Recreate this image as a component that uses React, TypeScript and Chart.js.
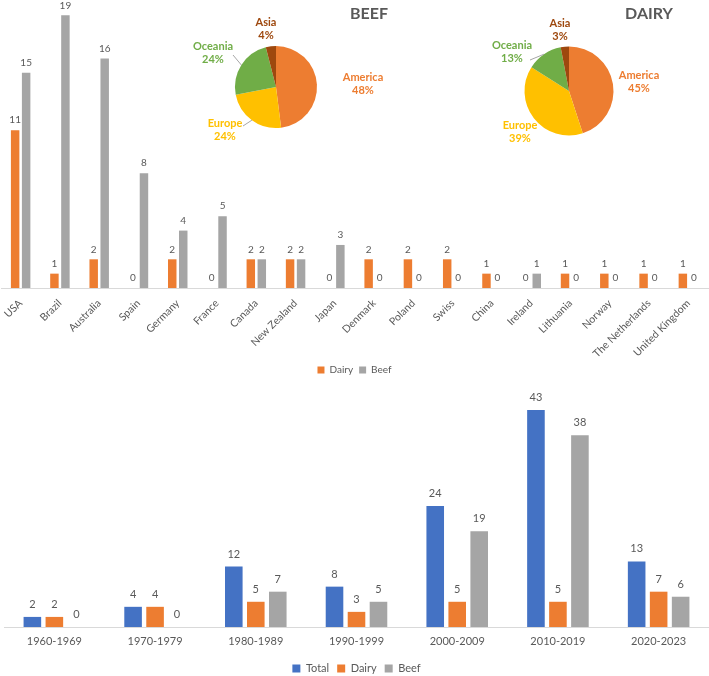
import React, { useEffect, useRef } from 'react';
import { Chart, registerables } from 'chart.js';

Chart.register(...registerables);

// ---------- data ----------
const countries = ['USA', 'Brazil', 'Australia', 'Spain', 'Germany', 'France', 'Canada', 'New Zealand', 'Japan', 'Denmark', 'Poland', 'Swiss', 'China', 'Ireland', 'Lithuania', 'Norway', 'The Netherlands', 'United Kingdom'];
const countryDairy = [11, 1, 2, 0, 2, 0, 2, 2, 0, 2, 2, 2, 1, 0, 1, 1, 1, 1];
const countryBeef = [15, 19, 16, 8, 4, 5, 2, 2, 3, 0, 0, 0, 0, 1, 0, 0, 0, 0];

const decades = ['1960-1969', '1970-1979', '1980-1989', '1990-1999', '2000-2009', '2010-2019', '2020-2023'];
const decadeTotal = [2, 4, 12, 8, 24, 43, 13];
const decadeDairy = [2, 4, 5, 3, 5, 5, 7];
const decadeBeef = [0, 0, 7, 5, 19, 38, 6];

const regions = ['America', 'Europe', 'Oceania', 'Asia'];
const beefShare = [48, 24, 24, 4];
const dairyShare = [45, 39, 13, 3];

// ---------- styles ----------
const ORANGE = '#ED7D31';
const GRAY = '#A5A5A5';
const BLUE = '#4472C4';
const YELLOW = '#FFC000';
const GREEN = '#70AD47';
const BROWN = '#9E480E';
const TEXT = '#595959';
const FONT = 'Lato, "Open Sans", sans-serif';
const regionColors = [ORANGE, YELLOW, GREEN, BROWN];

const valueLabels = (size: number, gap: number) => ({
  id: 'valueLabels',
  afterDatasetsDraw(chart: any) {
    const ctx = chart.ctx;
    ctx.save();
    ctx.font = `${size}px ${FONT}`;
    ctx.fillStyle = TEXT;
    ctx.textAlign = 'center';
    ctx.textBaseline = 'middle';
    chart.data.datasets.forEach((ds: any, i: number) => {
      const meta = chart.getDatasetMeta(i);
      meta.data.forEach((bar: any, j: number) => {
        ctx.fillText(String(ds.data[j]), bar.x, bar.y - gap);
      });
    });
    ctx.restore();
  },
});

const pieLabels = {
  id: 'pieLabels',
  afterDraw(chart: any, _args: any, opts: any) {
    const meta = chart.getDatasetMeta(0);
    const arcs = meta.data;
    if (!arcs.length) return;
    const ctx = chart.ctx;
    const cx = arcs[0].x;
    const cy = arcs[0].y;
    const values = chart.data.datasets[0].data;
    ctx.save();
    ctx.textAlign = 'center';
    ctx.textBaseline = 'middle';
    // title
    ctx.font = `bold 16px ${FONT}`;
    ctx.fillStyle = TEXT;
    ctx.fillText(opts.title, cx + opts.titleOffset[0], cy + opts.titleOffset[1]);
    // leader lines
    ctx.strokeStyle = '#A6A6A6';
    ctx.lineWidth = 1;
    (opts.leaders || []).forEach((l: any) => {
      const arc = arcs[l.index];
      const mid = (arc.startAngle + arc.endAngle) / 2;
      const r = arc.outerRadius;
      ctx.beginPath();
      ctx.moveTo(cx + l.from[0], cy + l.from[1]);
      ctx.lineTo(cx + Math.cos(mid) * r, cy + Math.sin(mid) * r);
      ctx.stroke();
    });
    // labels
    ctx.font = `bold 11px ${FONT}`;
    arcs.forEach((_arc: any, i: number) => {
      const [dx, dy] = opts.offsets[i];
      ctx.fillStyle = regionColors[i];
      ctx.fillText(chart.data.labels[i], cx + dx, cy + dy - 6.5);
      ctx.fillText(values[i] + '%', cx + dx, cy + dy + 6.5);
    });
    ctx.restore();
  },
};

function useChart(ref: React.RefObject<HTMLCanvasElement>, makeConfig: () => any) {
  useEffect(() => {
    if (!ref.current) return;
    const chart = new Chart(ref.current, makeConfig());
    return () => chart.destroy();
  }, []);
}

export default function App() {
  const topRef = useRef<HTMLCanvasElement>(null);
  const bottomRef = useRef<HTMLCanvasElement>(null);
  const beefRef = useRef<HTMLCanvasElement>(null);
  const dairyRef = useRef<HTMLCanvasElement>(null);

  useChart(topRef, () => ({
    type: 'bar',
    data: {
      labels: countries,
      datasets: [
        { label: 'Dairy', data: countryDairy, backgroundColor: ORANGE, barPercentage: 0.77, categoryPercentage: 0.56 },
        { label: 'Beef', data: countryBeef, backgroundColor: GRAY, barPercentage: 0.77, categoryPercentage: 0.56 },
      ],
    },
    options: {
      responsive: false,
      animation: false,
      layout: { padding: { top: 1, left: 1, right: 1, bottom: 0 } },
      scales: {
        x: {
          grid: { display: false, drawTicks: false },
          border: { display: true, color: '#D9D9D9' },
          ticks: { font: { family: FONT, size: 10.5 }, color: TEXT, minRotation: 45, maxRotation: 45, autoSkip: false, padding: 9 },
          afterFit(s: any) {
            s.height = 71;
            s.paddingLeft = 0;
            s.paddingRight = 0;
          },
        },
        y: { display: false, min: 0, max: 20 },
      },
      plugins: {
        legend: { position: 'bottom', labels: { boxWidth: 7, boxHeight: 7, font: { family: FONT, size: 10 }, color: TEXT, padding: 6 } },
        tooltip: { enabled: false },
      },
    },
    plugins: [valueLabels(10, 10)],
  }));

  useChart(bottomRef, () => ({
    type: 'bar',
    data: {
      labels: decades,
      datasets: [
        { label: 'Total', data: decadeTotal, backgroundColor: BLUE, barPercentage: 0.8, categoryPercentage: 0.655 },
        { label: 'Dairy', data: decadeDairy, backgroundColor: ORANGE, barPercentage: 0.8, categoryPercentage: 0.655 },
        { label: 'Beef', data: decadeBeef, backgroundColor: GRAY, barPercentage: 0.8, categoryPercentage: 0.655 },
      ],
    },
    options: {
      responsive: false,
      animation: false,
      layout: { padding: { top: 20, left: 4, right: 0, bottom: 0 } },
      scales: {
        x: {
          grid: { display: false, drawTicks: false },
          border: { display: true, color: '#D9D9D9' },
          ticks: { font: { family: FONT, size: 11 }, color: TEXT, maxRotation: 0, autoSkip: false, padding: 8 },
          afterFit(s: any) {
            s.height = 28;
            s.paddingLeft = 0;
            s.paddingRight = 0;
          },
        },
        y: { display: false, min: 0, max: 45 },
      },
      plugins: {
        legend: { position: 'bottom', labels: { boxWidth: 8, boxHeight: 8, font: { family: FONT, size: 11 }, color: TEXT, padding: 8 } },
        tooltip: { enabled: false },
      },
    },
    plugins: [valueLabels(11, 12.5)],
  }));

  useChart(beefRef, () => ({
    type: 'pie',
    data: {
      labels: regions,
      datasets: [{ data: beefShare, backgroundColor: regionColors, borderWidth: 0 }],
    },
    options: {
      responsive: false,
      animation: false,
      layout: { padding: { left: 59, right: 99, top: 46, bottom: 32 } },
      plugins: {
        legend: { display: false },
        tooltip: { enabled: false },
        pieLabels: {
          title: 'BEEF',
          titleOffset: [93, -73],
          offsets: [[87, -3.5], [-51, 43], [-63, -34], [-10, -58]],
          leaders: [{ index: 2, from: [-43, -32] }, { index: 1, from: [-33, 39] }],
        },
      },
    },
    plugins: [pieLabels],
  }));

  useChart(dairyRef, () => ({
    type: 'pie',
    data: {
      labels: regions,
      datasets: [{ data: dairyShare, backgroundColor: regionColors, borderWidth: 0 }],
    },
    options: {
      responsive: false,
      animation: false,
      layout: { padding: { left: 55.5, right: 95.5, top: 46.5, bottom: 24.5 } },
      plugins: {
        legend: { display: false },
        tooltip: { enabled: false },
        pieLabels: {
          title: 'DAIRY',
          titleOffset: [80, -77],
          offsets: [[70, -9.5], [-49, 40.5], [-57, -39], [-9, -61.5]],
          leaders: [{ index: 2, from: [-39, -31] }],
        },
      },
    },
    plugins: [pieLabels],
  }));

  return (
    <div style={{ position: 'fixed', left: 0, top: 0, width: 709, height: 676, overflow: 'hidden', background: '#fff' }}>
      <canvas ref={topRef} width={709} height={385} style={{ position: 'absolute', left: 0, top: 0 }} />
      <canvas ref={bottomRef} width={709} height={304} style={{ position: 'absolute', left: 0, top: 380 }} />
      <canvas ref={beefRef} width={240} height={160} style={{ position: 'absolute', left: 176, top: 0 }} />
      <canvas ref={dairyRef} width={240} height={160} style={{ position: 'absolute', left: 469, top: 0 }} />
    </div>
  );
}
